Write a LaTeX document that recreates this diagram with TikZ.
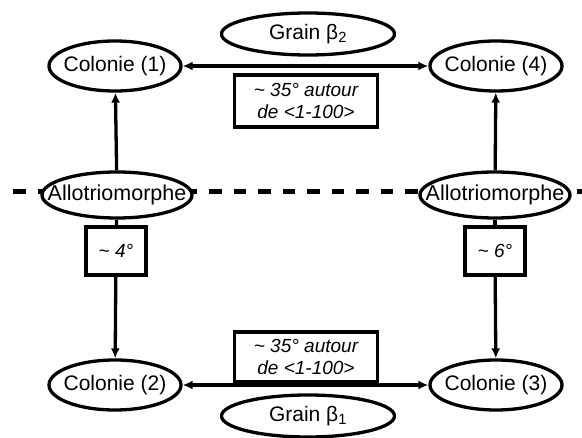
\documentclass[tikz,border=0pt]{standalone}
\usepackage{fontspec}
\setmainfont{Liberation Sans}
\usetikzlibrary{arrows.meta,shapes.geometric}

\begin{document}
\begin{tikzpicture}[>={Latex[length=10pt,width=9pt]}, line width=3.3pt, x=1pt, y=-1pt,
  colonie/.style={ellipse, draw, fill=white, inner xsep=-20pt, inner ysep=0pt,
    minimum width=132pt, minimum height=50pt, font=\fontsize{21}{24}\selectfont},
  allo/.style={colonie, minimum width=150pt, minimum height=46pt,
    font=\fontsize{21.5}{24}\selectfont},
  grain/.style={colonie, minimum width=173pt, minimum height=42pt},
  anglebox/.style={draw, fill=white, rectangle, align=center, inner sep=0pt,
    font=\fontsize{19}{22}\selectfont\itshape}]
  \useasboundingbox (0,0) rectangle (582,438);
  % Interface (dashed)
  \coordinate (iL) at (13,192);
  \coordinate (iR) at (582,192);
  \draw[line width=5pt, dash pattern=on 12.5pt off 12pt] (iL) -- (iR);
  % Allotriomorphs
  \node[allo] (alloL) at (117,195) {Allotriomorphe};
  \node[allo] (alloR) at (495,195) {Allotriomorphe};
  % Colonies
  \node[colonie] (col1) at (115,66) {Colonie (1)};
  \node[colonie] (col4) at (496,66) {Colonie (4)};
  \node[colonie] (col2) at (115,385) {Colonie (2)};
  \node[colonie] (col3) at (496,385) {Colonie (3)};
  % Grains
  \node[grain] (g2) at (308,34) {Grain β\textsubscript{2}};
  \node[grain] (g1) at (308,416) {Grain β\textsubscript{1}};
  % Misorientations
  \node[anglebox, minimum width=60pt, minimum height=48pt] (b4) at (116,251) {\textasciitilde{} 4°};
  \node[anglebox, minimum width=60pt, minimum height=48pt] (b6) at (495,251) {\textasciitilde{} 6°};
  \node[anglebox, minimum width=143pt, minimum height=52pt] (bt) at (306,101)
    {\textasciitilde{} 35° autour\\de <1-100>};
  \node[anglebox, minimum width=143pt, minimum height=50pt] (bb) at (306,357)
    {\textasciitilde{} 35° autour\\de <1-100>};
  % Arrows
  \draw[->] (alloL) -- (col1);
  \draw[->] (alloR) -- (col4);
  \draw (alloL) -- (b4);
  \draw[->] (b4) -- (col2);
  \draw (alloR) -- (b6);
  \draw[->] (b6) -- (col3);
  \draw[<->] (col1) -- (col4);
  \draw[<->] (col2) -- (col3);
\end{tikzpicture}
\end{document}
